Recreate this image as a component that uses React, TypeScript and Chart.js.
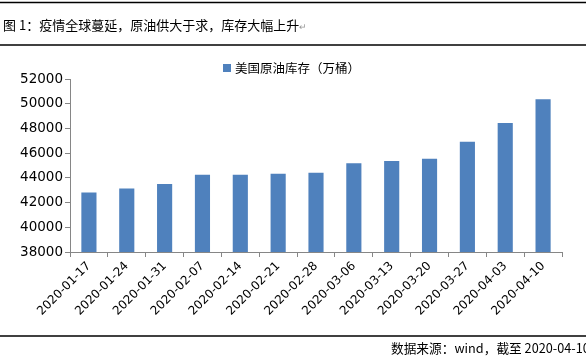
import React, { useEffect, useRef } from "react";
import { Chart, registerables } from "chart.js";

Chart.register(...registerables);

const categories = [
  "2020-01-17", "2020-01-24", "2020-01-31", "2020-02-07", "2020-02-14",
  "2020-02-21", "2020-02-28", "2020-03-06", "2020-03-13", "2020-03-20",
  "2020-03-27", "2020-04-03", "2020-04-10",
];
const inventory = [
  42810, 43140, 43510, 44250, 44250, 44330, 44410, 45180, 45370, 45540,
  46920, 48440, 50360,
];
const seriesName = "美国原油库存（万桶）";
const titleText = "图 1：疫情全球蔓延，原油供大于求，库存大幅上升";
const sourceText = "数据来源：wind，截至 2020-04-10";
const yMin = 38000;
const yMax = 52000;
const yStep = 2000;

const BAR = "#4F81BD";
const CJK = '"Noto Sans CJK SC", "Noto Sans", sans-serif';

const decorPlugin = {
  id: "decor",
  beforeDraw(chart: any) {
    const ctx = chart.ctx;
    ctx.save();
    ctx.fillStyle = "#ffffff";
    ctx.fillRect(0, 0, chart.width, chart.height);
    ctx.restore();
  },
  afterDraw(chart: any) {
    const ctx = chart.ctx;
    const w = chart.width;
    ctx.save();
    ctx.strokeStyle = "#000000";
    ctx.lineWidth = 1.3;
    [2.5, 45, 336].forEach((y) => {
      ctx.beginPath();
      ctx.moveTo(0, y);
      ctx.lineTo(w, y);
      ctx.stroke();
    });
    // title
    ctx.fillStyle = "#000000";
    ctx.textBaseline = "middle";
    ctx.textAlign = "left";
    ctx.font = `13px ${CJK}`;
    ctx.fillText(titleText, 3, 25);
    const tw = ctx.measureText(titleText).width;
    ctx.fillStyle = "#999999";
    ctx.font = `9px ${CJK}`;
    ctx.fillText("↵", 3 + tw, 27);
    // legend
    ctx.fillStyle = BAR;
    ctx.fillRect(223, 64, 8, 8);
    ctx.fillStyle = "#000000";
    ctx.font = `12.5px ${CJK}`;
    ctx.fillText(seriesName, 235, 68);
    // source
    ctx.font = `12.7px ${CJK}`;
    ctx.fillText(sourceText, 391, 348);
    ctx.restore();
  },
};

export default function App() {
  const ref = useRef<HTMLCanvasElement | null>(null);

  useEffect(() => {
    if (!ref.current) return;
    const chart = new Chart(ref.current, {
      type: "bar",
      data: {
        labels: categories,
        datasets: [
          {
            label: seriesName,
            data: inventory,
            backgroundColor: BAR,
            borderWidth: 0,
            barPercentage: 0.4,
            categoryPercentage: 1,
          },
        ],
      },
      options: {
        responsive: false,
        animation: false,
        devicePixelRatio: 1,
        layout: { padding: { top: 79, right: 24, bottom: 20, left: 0 } },
        plugins: {
          legend: { display: false },
          tooltip: { enabled: false },
        },
        scales: {
          x: {
            afterFit: (s: any) => {
              s.height = 84;
            },
            grid: {
              display: true,
              offset: true,
              drawOnChartArea: false,
              tickLength: 5,
              color: "#868686",
            },
            border: { display: true, color: "#868686", width: 1 },
            ticks: {
              autoSkip: false,
              maxRotation: 45,
              minRotation: 45,
              padding: 2,
              color: "#000000",
              font: { family: '"DejaVu Sans", sans-serif', size: 12 },
            },
          },
          y: {
            min: yMin,
            max: yMax,
            afterFit: (s: any) => {
              s.width = 70;
            },
            grid: {
              display: true,
              drawOnChartArea: false,
              tickLength: 5,
              color: "#868686",
            },
            border: { display: true, color: "#868686", width: 1 },
            ticks: {
              stepSize: yStep,
              padding: 2,
              color: "#000000",
              font: { family: '"DejaVu Sans", sans-serif', size: 13.5 },
              callback: (v: any) => String(v),
            },
          },
        },
      },
      plugins: [decorPlugin],
    });
    return () => chart.destroy();
  }, []);

  return (
    <div style={{ position: "fixed", left: 0, top: 0, width: 586, height: 356, background: "#fff" }}>
      <canvas ref={ref} width={586} height={356} style={{ display: "block", width: 586, height: 356 }} />
    </div>
  );
}
